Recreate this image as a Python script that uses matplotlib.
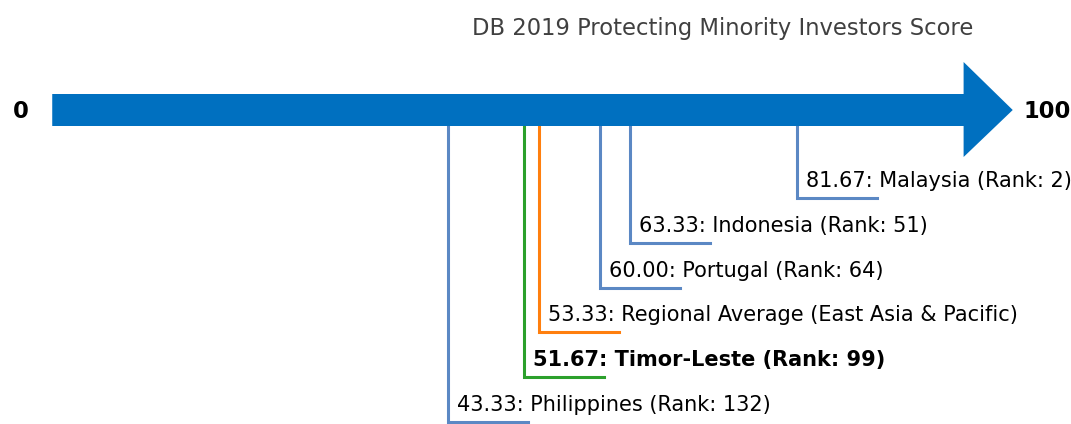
import matplotlib
matplotlib.use("Agg")
import matplotlib.pyplot as plt
from matplotlib.patches import Polygon

plt.rcParams['font.family'] = ['DejaVu Sans']

# Data
names = ["Malaysia (Rank: 2)", "Indonesia (Rank: 51)", "Portugal (Rank: 64)",
         "Regional Average (East Asia & Pacific)", "Timor-Leste (Rank: 99)",
         "Philippines (Rank: 132)"]
scores = [81.67, 63.33, 60.00, 53.33, 51.67, 43.33]
colors = ["#5b88c4", "#5b88c4", "#5b88c4", "#ff7f0e", "#2ca02c", "#5b88c4"]
bold = [False, False, False, False, True, False]
title = "DB 2019 Protecting Minority Investors Score"
axis_min, axis_max = 0, 100

W, H = 1071, 424
fig = plt.figure(figsize=(W / 100, H / 100), dpi=100)
ax = fig.add_axes([0, 0, 1, 1])
scale = 9.10
x0 = 53.6
ax.set_xlim(-x0 / scale, (W - x0) / scale)
ax.set_ylim(H, 0)
ax.axis("off")

arrow_color = "#0070c0"
body_top, body_bot = 94, 126
head_top, head_bot = 62, 157
head_len = 5.4
mid = (body_top + body_bot) / 2
poly = Polygon([(axis_min - 0.15, body_top), (axis_max, body_top), (axis_max, head_top),
                (axis_max + head_len, mid), (axis_max, head_bot), (axis_max, body_bot),
                (axis_min - 0.15, body_bot)], closed=True, facecolor=arrow_color,
               edgecolor="none", zorder=3)
ax.add_patch(poly)

ax.text(axis_min - 3.6, mid + 1.5, f"{axis_min}", ha="center", va="center",
        fontsize=16.3, fontweight="bold", color="black")
ax.text(axis_max + 9.2, mid + 1.5, f"{axis_max}", ha="center", va="center",
        fontsize=16.3, fontweight="bold", color="black")

ax.text((723 - x0) / scale, 28, title, ha="center", va="center", fontsize=16.3,
        color="#404040")

seg_len = 8.8
for i, (n, s, c, b) in enumerate(zip(names, scores, colors, bold)):
    y = 198 + 44.8 * i
    ax.plot([s, s, s + seg_len], [body_bot, y, y], color=c, lw=2.2,
            solid_joinstyle="miter", zorder=2)
    ax.text(s + 1.0, y - 11, f"{s:.2f}: {n}", ha="left", va="baseline",
            fontsize=15.0, fontweight="bold" if b else "normal", color="black")

fig.savefig("out.png", dpi=100)
